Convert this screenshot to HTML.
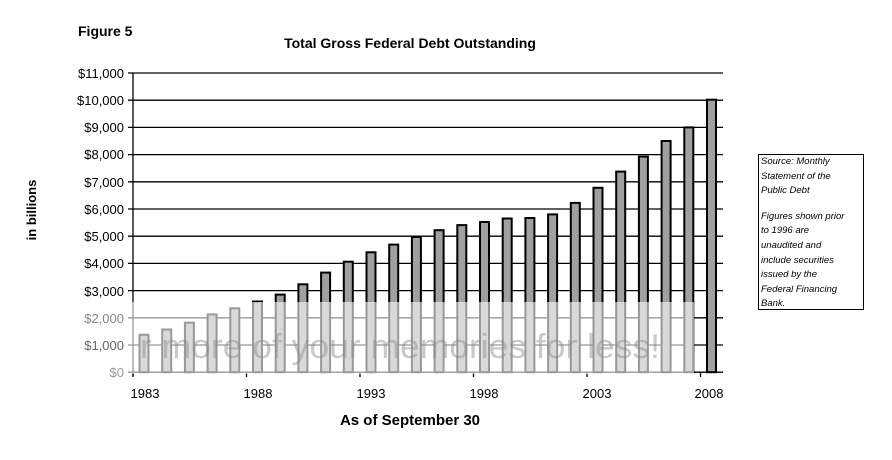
<!DOCTYPE html>
<html><head><meta charset="utf-8"><style>
html,body{margin:0;padding:0;background:#fff;}
svg{display:block;font-family:"Liberation Sans",Arial,sans-serif;}
</style></head><body>
<svg width="892" height="460" viewBox="0 0 892 460" xmlns="http://www.w3.org/2000/svg">
<rect width="892" height="460" fill="#fff"/>
<text x="78" y="36" font-size="14" font-weight="bold">Figure 5</text>
<text x="410" y="48" font-size="14" font-weight="bold" text-anchor="middle">Total Gross Federal Debt Outstanding</text>
<g stroke="#000" stroke-width="1.3">
<line x1="128" y1="73" x2="723" y2="73"/><line x1="128" y1="100.2" x2="723" y2="100.2"/>
<line x1="128" y1="127.4" x2="723" y2="127.4"/><line x1="128" y1="154.6" x2="723" y2="154.6"/>
<line x1="128" y1="181.8" x2="723" y2="181.8"/><line x1="128" y1="209" x2="723" y2="209"/>
<line x1="128" y1="236.2" x2="723" y2="236.2"/><line x1="128" y1="263.4" x2="723" y2="263.4"/>
<line x1="128" y1="290.6" x2="723" y2="290.6"/><line x1="128" y1="317.8" x2="723" y2="317.8"/>
<line x1="128" y1="345" x2="723" y2="345"/>
<line x1="133" y1="73" x2="133" y2="376"/>
<line x1="128" y1="372.2" x2="723" y2="372.2"/>
<line x1="133" y1="372" x2="133" y2="377"/><line x1="246.5" y1="372" x2="246.5" y2="377"/>
<line x1="360" y1="372" x2="360" y2="377"/><line x1="473.5" y1="372" x2="473.5" y2="377"/>
<line x1="587" y1="372" x2="587" y2="377"/><line x1="700.5" y1="372" x2="700.5" y2="377"/>
</g>
<g fill="#a0a0a0" stroke="#000" stroke-width="2">
<rect x="139.5" y="334.8" width="9" height="37.4"/>
<rect x="162.2" y="329.5" width="9" height="42.7"/>
<rect x="184.9" y="322.7" width="9" height="49.5"/>
<rect x="207.6" y="314.4" width="9" height="57.8"/>
<rect x="230.3" y="308.3" width="9" height="63.9"/>
<rect x="253.0" y="301.5" width="9" height="70.7"/>
<rect x="275.7" y="294.6" width="9" height="77.6"/>
<rect x="298.4" y="284.3" width="9" height="87.9"/>
<rect x="321.1" y="272.6" width="9" height="99.6"/>
<rect x="343.8" y="261.7" width="9" height="110.5"/>
<rect x="366.5" y="252.3" width="9" height="119.9"/>
<rect x="389.2" y="244.6" width="9" height="127.6"/>
<rect x="411.9" y="237.0" width="9" height="135.2"/>
<rect x="434.6" y="230.2" width="9" height="142.0"/>
<rect x="457.3" y="225.1" width="9" height="147.1"/>
<rect x="480.0" y="222.0" width="9" height="150.2"/>
<rect x="502.7" y="218.5" width="9" height="153.7"/>
<rect x="525.4" y="218.0" width="9" height="154.2"/>
<rect x="548.1" y="214.4" width="9" height="157.8"/>
<rect x="570.8" y="202.9" width="9" height="169.3"/>
<rect x="593.5" y="187.8" width="9" height="184.4"/>
<rect x="616.2" y="171.6" width="9" height="200.6"/>
<rect x="638.9" y="156.6" width="9" height="215.6"/>
<rect x="661.6" y="141.0" width="9" height="231.2"/>
<rect x="684.3" y="127.4" width="9" height="244.8"/>
<rect x="707.0" y="99.7" width="9" height="272.5"/>
</g>
<rect x="122" y="302" width="572" height="72" fill="#fff" opacity="0.6"/>
<text x="140" y="358" font-size="34" fill="#8a8a8a" opacity="0.45" textLength="520" lengthAdjust="spacingAndGlyphs">r more of your memories for less!</text>
<g font-size="13" text-anchor="end">
<text x="124" y="78">$11,000</text><text x="124" y="105">$10,000</text>
<text x="124" y="132">$9,000</text><text x="124" y="159">$8,000</text>
<text x="124" y="187">$7,000</text><text x="124" y="214">$6,000</text>
<text x="124" y="241">$5,000</text><text x="124" y="268">$4,000</text>
<text x="124" y="296">$3,000</text>
<text x="124" y="323" fill="#888">$2,000</text><text x="124" y="350" fill="#666">$1,000</text>
<text x="124" y="377" fill="#999">$0</text>
</g>
<g font-size="13" text-anchor="middle">
<text x="145" y="398">1983</text><text x="258" y="398">1988</text>
<text x="371" y="398">1993</text><text x="484" y="398">1998</text>
<text x="597" y="398">2003</text><text x="709" y="398">2008</text>
</g>
<text x="410" y="425" font-size="15" font-weight="bold" text-anchor="middle">As of September 30</text>
<text transform="translate(36,210) rotate(-90)" font-size="13" font-weight="bold" text-anchor="middle">in billions</text>
<rect x="758.5" y="154.5" width="105" height="155" fill="#fff" stroke="#000" stroke-width="1"/>
<g font-size="9.5" font-style="italic">
<text x="761" y="164">Source: Monthly</text>
<text x="761" y="179">Statement of the</text>
<text x="761" y="193">Public Debt</text>
<text x="761" y="219">Figures shown prior</text>
<text x="761" y="233">to 1996 are</text>
<text x="761" y="248">unaudited and</text>
<text x="761" y="263">include securities</text>
<text x="761" y="277">issued by the</text>
<text x="761" y="292">Federal Financing</text>
<text x="761" y="306">Bank.</text>
</g>
</svg>
</body></html>
